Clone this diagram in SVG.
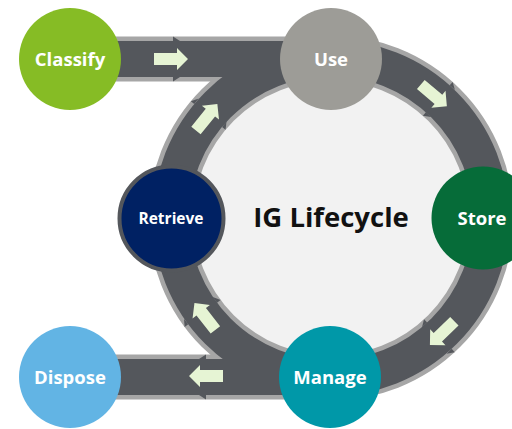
<svg xmlns="http://www.w3.org/2000/svg" width="512" height="429" viewBox="0 0 512 429">
<style>
.border{fill:none;stroke:#a6a6a6;stroke-width:45}
.dark{fill:none;stroke:#54575c;stroke-width:36}
.notch{fill:#54575c}
.arrow{fill:#e6f4d4}
.lbl{font-family:"Open Sans","DejaVu Sans",sans-serif;font-weight:bold;fill:#ffffff;text-anchor:middle;font-size:18.5px}
.title{font-family:"Open Sans","DejaVu Sans",sans-serif;font-weight:bold;fill:#111111;text-anchor:middle;font-size:27.5px}
</style>
<defs>
<polygon id="arr" points="-17,-6 6,-6 6,-11 17,0 6,11 6,6 -17,6"/>
<g id="ringmark">
<polygon points="332,35.5 332,40 339,40"/>
<polygon points="332,80.5 332,76 339,76"/>
</g>
</defs>
<rect width="512" height="429" fill="#ffffff"/>
<circle cx="331" cy="218" r="140" fill="#f2f2f2"/>
<g id="connectors">
<circle class="border" cx="331" cy="218" r="160"/>
<line class="border" x1="70" y1="59" x2="331" y2="59"/>
<line class="border" x1="70" y1="377" x2="331" y2="377"/>
<circle class="dark" cx="331" cy="218" r="160"/>
<line class="dark" x1="70" y1="59" x2="331" y2="59"/>
<line class="dark" x1="70" y1="377" x2="331" y2="377"/>
<g class="notch">
<polygon points="173,36.5 173,41 180,41"/>
<polygon points="173,81.5 173,77 180,77"/>
<polygon points="206,354.5 206,359 199,359"/>
<polygon points="206,399.5 206,395 199,395"/>
<use href="#ringmark" transform="rotate(41.5 331 218)"/>
<use href="#ringmark" transform="rotate(137 331 218)"/>
<use href="#ringmark" transform="rotate(233 331 218)"/>
<use href="#ringmark" transform="rotate(309.5 331 218)"/>
</g>
<g class="arrow">
<use href="#arr" transform="translate(171 59)"/>
<use href="#arr" transform="translate(206 376) rotate(180)"/>
<use href="#arr" transform="rotate(40 331 218) translate(331 58)"/>
<use href="#arr" transform="rotate(136 331 218) translate(331 58)"/>
<use href="#arr" transform="rotate(232 331 218) translate(331 58)"/>
<use href="#arr" transform="rotate(309 331 218) translate(331 58)"/>
</g>
</g>
<text class="title" x="331" y="227">IG Lifecycle</text>
<g id="classify"><circle cx="70" cy="59" r="51" fill="#86bc25"/><text class="lbl" x="70" y="66">Classify</text></g>
<g id="use"><circle cx="331" cy="59" r="51" fill="#9d9c97"/><text class="lbl" x="331" y="66">Use</text></g>
<g id="store"><circle cx="483" cy="218" r="51.5" fill="#066c39"/><text class="lbl" x="482" y="225">Store</text></g>
<g id="manage"><circle cx="330" cy="377" r="51" fill="#0098a8"/><text class="lbl" x="330" y="384">Manage</text></g>
<g id="dispose"><circle cx="70" cy="377" r="51" fill="#62b4e4"/><text class="lbl" x="70" y="384">Dispose</text></g>
<g id="retrieve"><circle cx="171.5" cy="218.5" r="52" fill="#002163" stroke="#54575c" stroke-width="4"/><text class="lbl" x="171" y="224" style="font-size:15.5px">Retrieve</text></g>
</svg>
